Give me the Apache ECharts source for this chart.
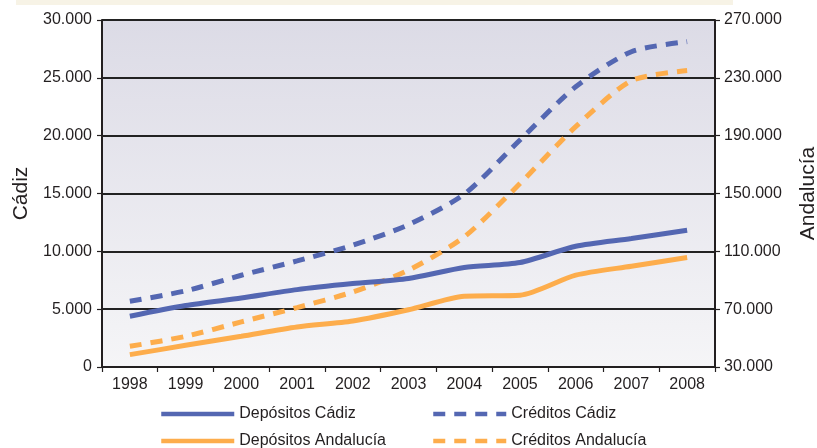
<!DOCTYPE html>
<html>
<head>
<meta charset="utf-8">
<script src="https://cdn.jsdelivr.net/npm/echarts@6/dist/echarts.min.js"></script>
<style>html,body{margin:0;padding:0;background:#fff}#c{width:817px;height:448px}</style>
</head>
<body>
<div id="c"></div>
<script>
var years = ['1998','1999','2000','2001','2002','2003','2004','2005','2006','2007','2008'];
var depositosCadiz = [4390, 5310, 5970, 6690, 7210, 7650, 8600, 9030, 10440, 11110, 11830];
var creditosCadiz = [5680, 6580, 7930, 9170, 10530, 12300, 14940, 19620, 24230, 27260, 28130];
var depositosAndalucia = [38540, 45000, 51240, 57700, 61850, 69600, 78900, 79600, 93500, 99700, 105700];
var creditosAndalucia = [44300, 51200, 61200, 71100, 81900, 97000, 120000, 156900, 196200, 228000, 235000];
var rightTicks = [30000, 70000, 110000, 150000, 190000, 230000, 270000];

var BLUE = '#5467b2', ORANGE = '#fdad4c', INK = '#231f20';
var FONT = '"Liberation Sans", Arial, Helvetica, sans-serif';
function fmt(v){ return String(v).replace(/\B(?=(\d{3})+(?!\d))/g, '.'); }

var chart = echarts.init(document.getElementById('c'), null, {renderer:'canvas'});
function leg(name, left, top){
  return {
    data:[name], left:left, top:top, itemWidth:73, itemHeight:16, itemGap:0, padding:0,
    itemStyle:{opacity:0, borderWidth:0},
    lineStyle:{width:4.5},
    textStyle:{fontFamily:FONT, fontSize:16, color:INK}
  };
}
var option = {
  animation:false,
  backgroundColor:'#ffffff',
  textStyle:{fontFamily:FONT},
  graphic:[{type:'rect', shape:{x:16, y:0, width:717, height:5}, style:{fill:'#f7f3e6'}, silent:true}],
  grid:{left:102, right:102, top:20, bottom:81, show:true, borderWidth:0, outerBoundsMode:'none', containLabel:false,
    backgroundColor:new echarts.graphic.LinearGradient(0,0,0,1,[{offset:0,color:'#dcdbe6'},{offset:1,color:'#f5f5f7'}])},
  legend:[
    leg('Depósitos Cádiz',159,406),
    leg('Créditos Cádiz',431,406),
    leg('Depósitos Andalucía',159,433),
    leg('Créditos Andalucía',431,433)
  ],
  xAxis:{type:'category', data:years, boundaryGap:true,
    axisLine:{lineStyle:{color:INK, width:1.5}},
    axisTick:{show:true, interval:0, length:5, lineStyle:{color:INK, width:1.2}},
    axisLabel:{interval:0, margin:10, fontSize:16, color:INK, fontFamily:FONT},
    splitLine:{show:false}},
  yAxis:[
    {type:'value', min:0, max:30000, interval:5000, position:'left',
      name:'Cádiz', nameLocation:'middle', nameRotate:90, nameGap:68,
      nameTextStyle:{fontSize:21, color:INK, fontFamily:FONT},
      axisLine:{show:true, lineStyle:{color:INK, width:2}},
      axisTick:{show:true, length:5, lineStyle:{color:INK, width:1.2}},
      axisLabel:{margin:10, fontSize:16, color:INK, fontFamily:FONT, formatter:fmt},
      splitLine:{show:true, lineStyle:{color:'#222222', width:1.8}}},
    {type:'value', min:30000, max:270000, interval:40000, position:'right',
      name:'Andalucía', nameLocation:'middle', nameRotate:90, nameGap:83,
      nameTextStyle:{fontSize:21, color:INK, fontFamily:FONT},
      axisLine:{show:true, lineStyle:{color:INK, width:2}},
      axisTick:{show:true, length:5, customValues:rightTicks, lineStyle:{color:INK, width:1.2}},
      axisLabel:{margin:9, fontSize:16, color:INK, fontFamily:FONT, formatter:fmt, customValues:rightTicks},
      splitLine:{show:false}}
  ],
  series:[
    {name:'Depósitos Cádiz', type:'line', yAxisIndex:0, data:depositosCadiz, symbol:'none', smooth:0.25,
      lineStyle:{color:BLUE, width:5}, itemStyle:{color:BLUE}, z:4},
    {name:'Créditos Cádiz', type:'line', yAxisIndex:0, data:creditosCadiz, symbol:'none', smooth:0.25,
      lineStyle:{color:BLUE, width:5, type:[12,9]}, itemStyle:{color:BLUE}, z:3},
    {name:'Depósitos Andalucía', type:'line', yAxisIndex:1, data:depositosAndalucia, symbol:'none', smooth:0.25,
      lineStyle:{color:ORANGE, width:5}, itemStyle:{color:ORANGE}, z:4},
    {name:'Créditos Andalucía', type:'line', yAxisIndex:1, data:creditosAndalucia, symbol:'none', smooth:0.25,
      lineStyle:{color:ORANGE, width:5, type:[12,9]}, itemStyle:{color:ORANGE}, z:3}
  ]
};
chart.setOption(option);
</script>
</body>
</html>
